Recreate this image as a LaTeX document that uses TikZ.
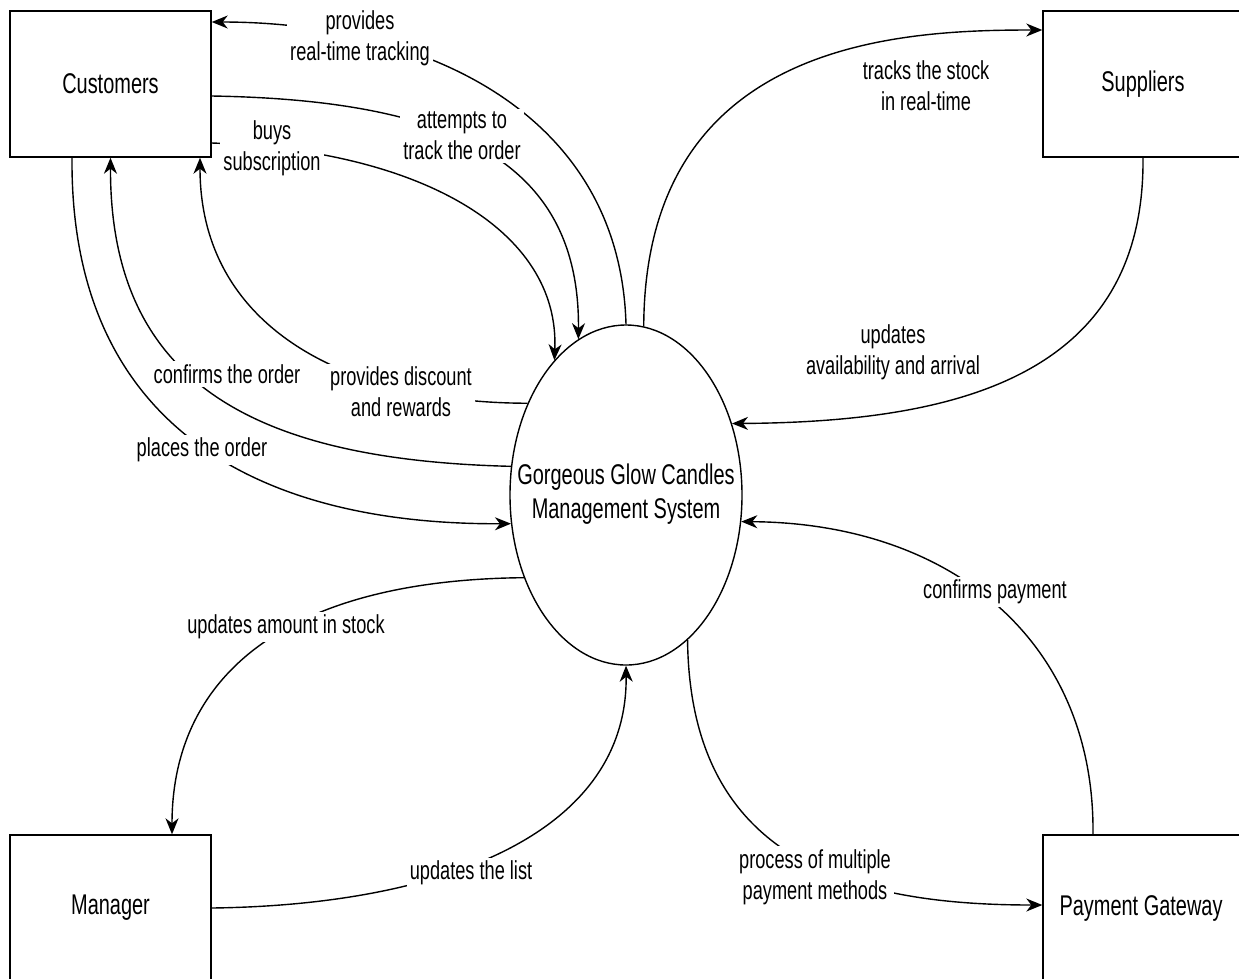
\documentclass[tikz,border=0pt]{standalone}
\usepackage{fontspec}
\setmainfont{Liberation Sans}[FakeStretch=0.7]
\usetikzlibrary{shapes.geometric,arrows.meta}
\begin{document}
\begin{tikzpicture}[x=1pt,y=-1pt,
  box/.style={draw, line width=1.4pt, minimum width=201pt, minimum height=146pt, inner sep=0pt, font=\fontsize{28.5}{34}\selectfont},
  proc/.style={ellipse, draw, line width=1.4pt, minimum width=232pt, minimum height=340pt, inner sep=0pt, font=\fontsize{28.5}{34}\selectfont},
  lbl/.style={fill=white, align=center, inner sep=3pt, font=\fontsize{26}{31}\selectfont},
  flow/.style={line width=1.4pt, -{Stealth[length=16pt,width=13pt,inset=5pt]}}]
\useasboundingbox (0,0) rectangle (1239,978);

% nodes
\node[box] (cust) at (110.5,84) {Customers};
\node[box, minimum width=200pt] (sup) at (1143,84) {Suppliers};
\node[box] (mgr) at (110.5,908) {Manager};
\node[box, minimum width=200pt] (pg) at (1143,908) {\hspace*{-4pt}Payment Gateway};
\node[proc] (sys) at (626,495) {\makebox[0pt]{\raisebox{-4pt}{\begin{tabular}{@{}c@{}}Gorgeous Glow Candles\\Management System\end{tabular}}}};

% connectors
\draw[flow] (sys.90) .. controls (620,110) and (420,22) .. ([yshift=62pt]cust.east);
\draw[flow] ([yshift=-12pt]cust.east) .. controls (450,100) and (580,160) .. (sys.107);
\draw[flow] ([yshift=-59pt]cust.east) .. controls (420,150) and (560,230) .. (sys.118);
\draw[flow] (sys.137) .. controls (350,403) and (200,330) .. ([xshift=89.5pt]cust.south);
\draw[flow] (sys.166) .. controls (250,460) and (110,380) .. (cust.south);
\draw[flow] ([xshift=-38.5pt]cust.south) .. controls (70,420) and (250,525) .. (sys.194);
\draw[flow] (sys.84) .. controls (645,40) and (900,30) .. ([yshift=54pt]sup.west);
\draw[flow] (sup.south) .. controls (1145,380) and (950,422) .. (sys.34);
\draw[flow] ([xshift=-50pt]pg.north) .. controls (1095,640) and (950,523) .. (sys.347);
\draw[flow] (sys.293) .. controls (690,860) and (850,905) .. ([yshift=3pt]pg.west);
\draw[flow] (sys.219) .. controls (280,580) and (172,680) .. ([xshift=61.5pt]mgr.north);
\draw[flow] (mgr.east) .. controls (450,905) and (628,830) .. (sys.south);

% labels
\node[lbl] (l1) at (360,38) {provides\\real-time tracking};
\node[lbl] (l2) at (462,136) {attempts to\\track the order};
\node[lbl] (l3) at (272,148) {buys\\subscription};
\node[lbl] (l4) at (401,392) {provides discount\\and rewards};
\node[lbl] (l5) at (227,374) {confirms the order};
\node[lbl] (l6) at (202,450) {places the order};
\node[lbl] (l7) at (926,86) {tracks the stock\\in real-time};
\node[lbl] (l8) at (893,352) {updates\\availability and arrival};
\node[lbl] (l9) at (995,592) {confirms payment};
\node[lbl] (l10) at (815,877) {process of multiple\\payment methods};
\node[lbl] (l11) at (286,627) {updates amount in stock};
\node[lbl] (l12) at (471,873) {updates the list};
\end{tikzpicture}
\end{document}
